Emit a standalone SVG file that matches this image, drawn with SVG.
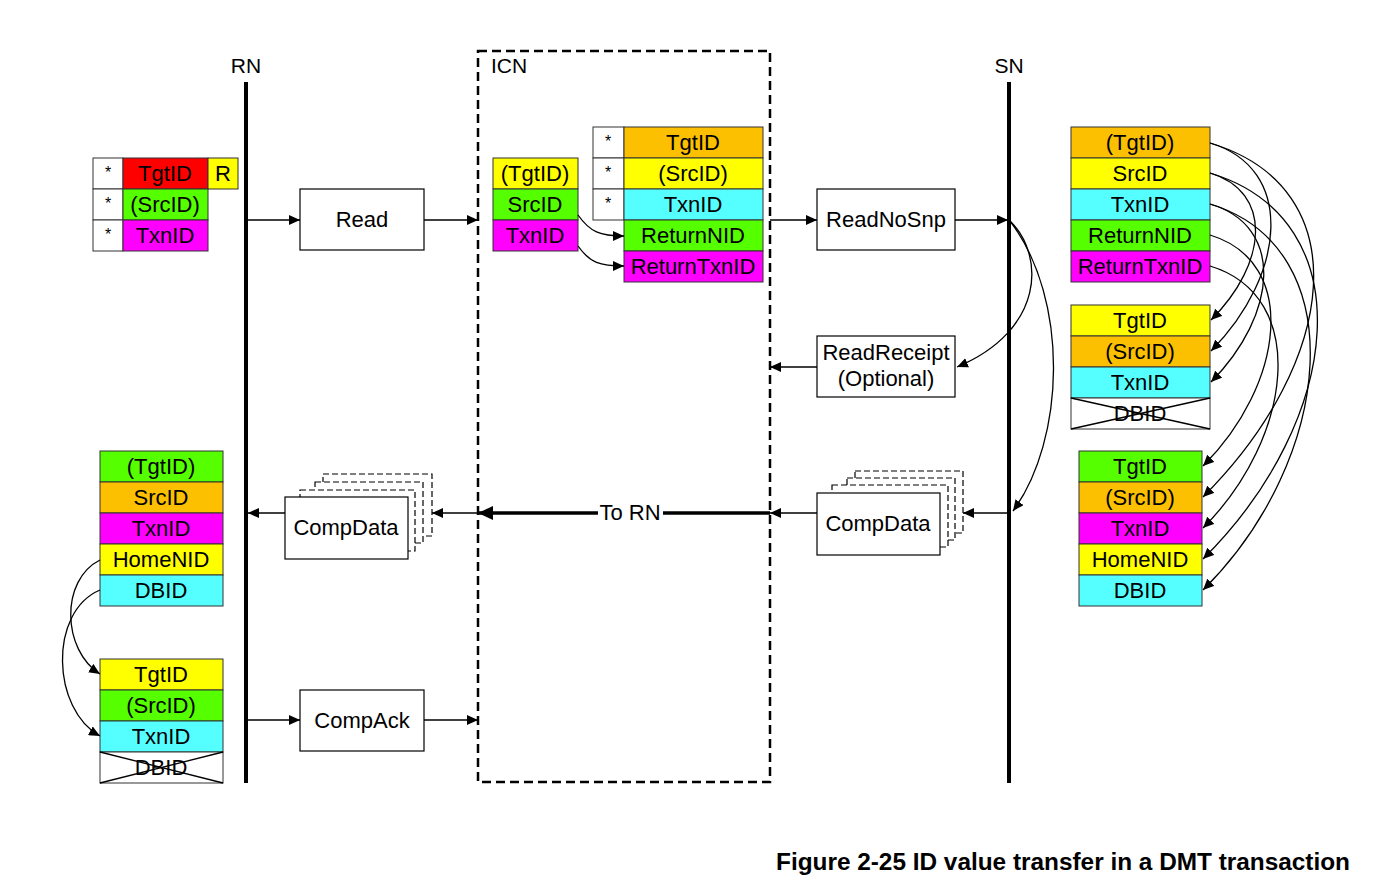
<svg xmlns="http://www.w3.org/2000/svg" width="1390" height="892" viewBox="0 0 1390 892">
<style>
text{font-family:"Liberation Sans",Arial,sans-serif;fill:#000}
.f{font-size:22px;text-anchor:middle}
.s{font-size:16px;text-anchor:middle}
.lbl{font-size:21px;text-anchor:middle}
.cell{stroke:#333;stroke-width:1}
.box{fill:#fff;stroke:#000;stroke-width:1.2}
.dbox{fill:#fff;stroke:#000;stroke-width:1.2;stroke-dasharray:6,3}
.ln{fill:none;stroke:#000;stroke-width:1.3}
.red{fill:#ff0000}.yel{fill:#ffff00}.grn{fill:#55ff00}.mag{fill:#ff00ff}.org{fill:#fcc000}.cyn{fill:#55ffff}.wht{fill:#fff}
</style>
<defs>
<marker id="ah" markerUnits="userSpaceOnUse" markerWidth="12" markerHeight="10" refX="11" refY="5" orient="auto"><path d="M0,0 L11,5 L0,10 z" fill="#000"/></marker>
<marker id="ahb" markerUnits="userSpaceOnUse" markerWidth="16" markerHeight="14" refX="15" refY="7" orient="auto"><path d="M0,0 L15,7 L0,14 z" fill="#000"/></marker>
</defs>
<rect width="1390" height="892" fill="#fff"/>

<g id="lifelines">
<text x="246" y="73" class="lbl">RN</text>
<line x1="246" y1="82" x2="246" y2="783" stroke="#000" stroke-width="4"/>
<text x="1009" y="73" class="lbl">SN</text>
<line x1="1009" y1="82" x2="1009" y2="783" stroke="#000" stroke-width="4"/>
<rect x="478" y="51" width="292" height="731" fill="none" stroke="#000" stroke-width="2.5" stroke-dasharray="9,5"/>
<text x="491" y="73" style="font-size:21px">ICN</text>
</g>

<g id="rn-req">
<rect x="93" y="158" width="30" height="31" class="cell wht"/><rect x="123" y="158" width="85" height="31" class="cell red"/><rect x="208" y="158" width="30" height="31" class="cell yel"/>
<rect x="93" y="189" width="30" height="31" class="cell wht"/><rect x="123" y="189" width="85" height="31" class="cell grn"/>
<rect x="93" y="220" width="30" height="31" class="cell wht"/><rect x="123" y="220" width="85" height="31" class="cell mag"/>
<text x="108" y="178" class="s">*</text><text x="108" y="209" class="s">*</text><text x="108" y="240" class="s">*</text>
<text x="165" y="181" class="f">TgtID</text><text x="223" y="181" class="f">R</text>
<text x="165" y="212" class="f">(SrcID)</text><text x="165" y="243" class="f">TxnID</text>
</g>

<g id="read"><rect x="300" y="189" width="124" height="61" class="box"/><text x="362" y="227" class="f">Read</text></g>

<g id="icn-in">
<rect x="493" y="158" width="85" height="31" class="cell yel"/><rect x="493" y="189" width="85" height="31" class="cell grn"/><rect x="493" y="220" width="85" height="31" class="cell mag"/>
<text x="535" y="181" class="f">(TgtID)</text><text x="535" y="212" class="f">SrcID</text><text x="535" y="243" class="f">TxnID</text>
</g>

<g id="icn-out">
<rect x="593" y="127" width="31" height="31" class="cell wht"/><rect x="593" y="158" width="31" height="31" class="cell wht"/><rect x="593" y="189" width="31" height="31" class="cell wht"/>
<rect x="624" y="127" width="139" height="31" class="cell org"/><rect x="624" y="158" width="139" height="31" class="cell yel"/><rect x="624" y="189" width="139" height="31" class="cell cyn"/><rect x="624" y="220" width="139" height="31" class="cell grn"/><rect x="624" y="251" width="139" height="31" class="cell mag"/>
<text x="608" y="147" class="s">*</text><text x="608" y="178" class="s">*</text><text x="608" y="209" class="s">*</text>
<text x="693" y="150" class="f">TgtID</text><text x="693" y="181" class="f">(SrcID)</text><text x="693" y="212" class="f">TxnID</text><text x="693" y="243" class="f">ReturnNID</text><text x="693" y="274" class="f">ReturnTxnID</text>
</g>

<g id="readnosnp"><rect x="817" y="189" width="138" height="61" class="box"/><text x="886" y="227" class="f">ReadNoSnp</text></g>

<g id="readreceipt"><rect x="817" y="336" width="138" height="61" class="box"/><text x="886" y="360" class="f">ReadReceipt</text><text x="886" y="386" class="f">(Optional)</text></g>

<g id="compdata-rn">
<rect x="323" y="474" width="109" height="62" class="dbox"/>
<rect x="315" y="482" width="108" height="61" class="dbox"/>
<rect x="300" y="490" width="115" height="61" class="dbox"/>
<rect x="285" y="497" width="123" height="62" class="box"/>
<text x="346" y="535" class="f">CompData</text>
</g>

<g id="compdata-sn">
<rect x="855" y="471" width="108" height="62" class="dbox"/>
<rect x="847" y="478" width="108" height="62" class="dbox"/>
<rect x="832" y="485" width="116" height="62" class="dbox"/>
<rect x="817" y="493" width="123" height="62" class="box"/>
<text x="878" y="531" class="f">CompData</text>
</g>

<g id="compack"><rect x="300" y="690" width="124" height="61" class="box"/><text x="362" y="728" class="f">CompAck</text></g>

<g id="sn-req">
<rect x="1071" y="127" width="139" height="31" class="cell org"/><rect x="1071" y="158" width="139" height="31" class="cell yel"/><rect x="1071" y="189" width="139" height="31" class="cell cyn"/><rect x="1071" y="220" width="139" height="31" class="cell grn"/><rect x="1071" y="251" width="139" height="31" class="cell mag"/>
<text x="1140" y="150" class="f">(TgtID)</text><text x="1140" y="181" class="f">SrcID</text><text x="1140" y="212" class="f">TxnID</text><text x="1140" y="243" class="f">ReturnNID</text><text x="1140" y="274" class="f">ReturnTxnID</text>
</g>

<g id="sn-receipt">
<rect x="1071" y="305" width="139" height="31" class="cell yel"/><rect x="1071" y="336" width="139" height="31" class="cell org"/><rect x="1071" y="367" width="139" height="31" class="cell cyn"/><rect x="1071" y="398" width="139" height="31" class="cell wht"/>
<line x1="1071" y1="398" x2="1210" y2="429" class="ln" stroke-width="1"/><line x1="1071" y1="429" x2="1210" y2="398" class="ln" stroke-width="1"/>
<text x="1140" y="328" class="f">TgtID</text><text x="1140" y="359" class="f">(SrcID)</text><text x="1140" y="390" class="f">TxnID</text><text x="1140" y="421" class="f">DBID</text>
</g>

<g id="sn-compdata">
<rect x="1079" y="451" width="123" height="31" class="cell grn"/><rect x="1079" y="482" width="123" height="31" class="cell org"/><rect x="1079" y="513" width="123" height="31" class="cell mag"/><rect x="1079" y="544" width="123" height="31" class="cell yel"/><rect x="1079" y="575" width="123" height="31" class="cell cyn"/>
<text x="1140" y="474" class="f">TgtID</text><text x="1140" y="505" class="f">(SrcID)</text><text x="1140" y="536" class="f">TxnID</text><text x="1140" y="567" class="f">HomeNID</text><text x="1140" y="598" class="f">DBID</text>
</g>

<g id="rn-compdata">
<rect x="100" y="451" width="123" height="31" class="cell grn"/><rect x="100" y="482" width="123" height="31" class="cell org"/><rect x="100" y="513" width="123" height="31" class="cell mag"/><rect x="100" y="544" width="123" height="31" class="cell yel"/><rect x="100" y="575" width="123" height="31" class="cell cyn"/>
<text x="161" y="474" class="f">(TgtID)</text><text x="161" y="505" class="f">SrcID</text><text x="161" y="536" class="f">TxnID</text><text x="161" y="567" class="f">HomeNID</text><text x="161" y="598" class="f">DBID</text>
</g>

<g id="rn-compack">
<rect x="100" y="659" width="123" height="31" class="cell yel"/><rect x="100" y="690" width="123" height="31" class="cell grn"/><rect x="100" y="721" width="123" height="31" class="cell cyn"/><rect x="100" y="752" width="123" height="31" class="cell wht"/>
<line x1="100" y1="752" x2="223" y2="783" class="ln" stroke-width="1"/><line x1="100" y1="783" x2="223" y2="752" class="ln" stroke-width="1"/>
<text x="161" y="682" class="f">TgtID</text><text x="161" y="713" class="f">(SrcID)</text><text x="161" y="744" class="f">TxnID</text><text x="161" y="775" class="f">DBID</text>
</g>

<g id="connectors">
<line x1="248" y1="220" x2="300" y2="220" class="ln" marker-end="url(#ah)"/>
<line x1="424" y1="220" x2="478" y2="220" class="ln" marker-end="url(#ah)"/>
<line x1="770" y1="220" x2="817" y2="220" class="ln" marker-end="url(#ah)"/>
<line x1="955" y1="220" x2="1008" y2="220" class="ln" marker-end="url(#ah)"/>
<line x1="817" y1="367" x2="770" y2="367" class="ln" marker-end="url(#ah)"/>
<line x1="1008" y1="513" x2="963" y2="513" class="ln" marker-end="url(#ah)"/>
<line x1="817" y1="513" x2="770" y2="513" class="ln" marker-end="url(#ah)"/>
<line x1="770" y1="513" x2="663" y2="513" stroke="#000" stroke-width="3.5"/>
<line x1="598" y1="513" x2="478" y2="513" stroke="#000" stroke-width="3.5" marker-end="url(#ahb)"/>
<text x="630" y="520" class="f">To RN</text>
<line x1="478" y1="513" x2="432" y2="513" class="ln" marker-end="url(#ah)"/>
<line x1="285" y1="513" x2="248" y2="513" class="ln" marker-end="url(#ah)"/>
<line x1="248" y1="720" x2="300" y2="720" class="ln" marker-end="url(#ah)"/>
<line x1="424" y1="720" x2="478" y2="720" class="ln" marker-end="url(#ah)"/>
<path d="M578,215 C590,232 600,236 624,236" class="ln" marker-end="url(#ah)"/>
<path d="M578,246 C590,263 600,266 624,266" class="ln" marker-end="url(#ah)"/>
<path d="M1010,221 C1045,255 1045,330 957,367" class="ln" marker-end="url(#ah)"/>
<path d="M1010,221 C1070,300 1065,440 1013,511" class="ln" marker-end="url(#ah)"/>
<path d="M1210,173 C1273,192 1268,263 1211,320" class="ln" marker-end="url(#ah)"/>
<path d="M1210,143 C1295,168 1287,274 1211,351" class="ln" marker-end="url(#ah)"/>
<path d="M1210,204 C1285,226 1278,314 1211,382" class="ln" marker-end="url(#ah)"/>
<path d="M1210,235 C1300,262 1284,385 1203,466" class="ln" marker-end="url(#ah)"/>
<path d="M1210,143 C1360,188 1338,362 1203,497" class="ln" marker-end="url(#ah)"/>
<path d="M1210,266 C1310,296 1293,438 1203,528" class="ln" marker-end="url(#ah)"/>
<path d="M1210,173 C1365,220 1343,420 1203,559" class="ln" marker-end="url(#ah)"/>
<path d="M1210,204 C1355,248 1334,460 1203,590" class="ln" marker-end="url(#ah)"/>
<path d="M100,560 C60,580 62,650 100,674" class="ln" marker-end="url(#ah)"/>
<path d="M100,590 C48,612 52,710 100,736" class="ln" marker-end="url(#ah)"/>
</g>

<text x="1350" y="870" textLength="574" lengthAdjust="spacingAndGlyphs" style="font-size:23px;font-weight:bold;text-anchor:end">Figure 2-25 ID value transfer in a DMT transaction</text>
</svg>
